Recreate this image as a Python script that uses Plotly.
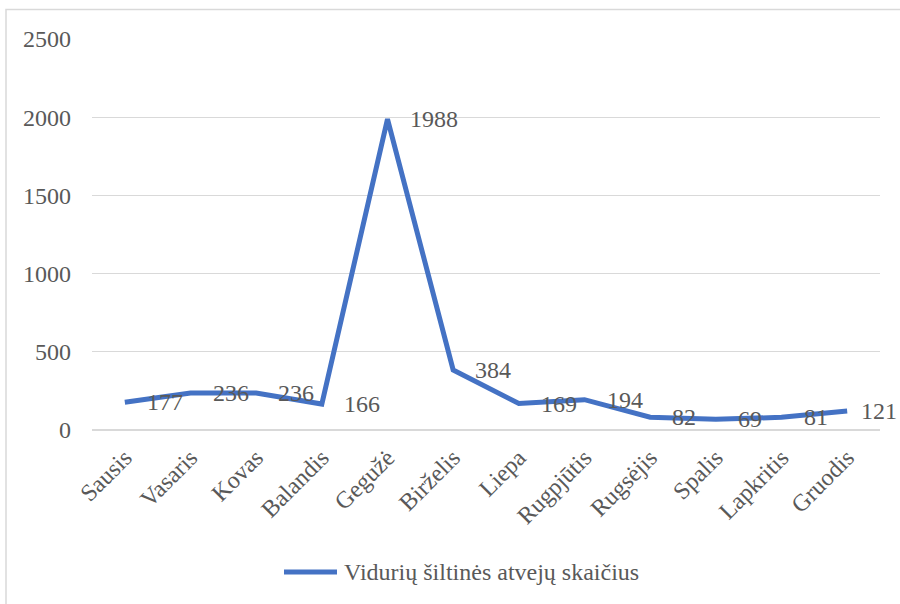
import plotly.graph_objects as go

months = ["Sausis", "Vasaris", "Kovas", "Balandis", "Gegužė", "Birželis",
          "Liepa", "Rugpjūtis", "Rugsėjis", "Spalis", "Lapkritis", "Gruodis"]
cases = [177, 236, 236, 166, 1988, 384, 169, 194, 82, 69, 81, 121]
series_name = "Vidurių šiltinės atvejų skaičius"
y_ticks = [0, 500, 1000, 1500, 2000, 2500]

FONT = "Liberation Serif, Times New Roman, serif"
GRAY = "#595959"
BLUE = "#4472C4"
FS = 24

W, H = 900, 604
L, T = 92, 39
R = W - 880
B = H - 430
pw, ph = W - L - R, H - T - B


def px(x):
    return (x - L) / pw


def py(y):
    return (H - B - y) / ph


fig = go.Figure()
fig.add_trace(go.Scatter(
    x=months, y=cases, mode="lines", name=series_name,
    line=dict(color=BLUE, width=5), showlegend=False, hoverinfo="skip",
))

for i, (m, v) in enumerate(zip(months, cases)):
    fig.add_annotation(x=m, y=v, xref="x", yref="y", text=str(v),
                       showarrow=False, xanchor="left", yanchor="middle",
                       xshift=12 if i == len(months) - 1 else 20,
                       font=dict(family=FONT, size=FS, color=GRAY))

# outer chart border
fig.add_shape(type="rect", xref="paper", yref="paper",
              x0=px(6), x1=px(920), y0=py(630), y1=py(9.5),
              line=dict(color="#D9D9D9", width=1.5), fillcolor="rgba(0,0,0,0)",
              layer="below")

# legend (drawn manually to match the long key line)
fig.add_shape(type="line", xref="paper", yref="paper",
              x0=px(284), x1=px(337), y0=py(572), y1=py(572),
              line=dict(color=BLUE, width=5))
fig.add_annotation(xref="paper", yref="paper", x=px(342), y=py(572),
                   text=series_name, showarrow=False, xanchor="left",
                   yanchor="middle", font=dict(family=FONT, size=FS, color=GRAY))

fig.update_layout(
    width=W, height=H,
    margin=dict(l=L, r=R, t=T, b=B, autoexpand=False),
    paper_bgcolor="white", plot_bgcolor="white",
    font=dict(family=FONT, size=FS, color=GRAY),
    showlegend=False,
    xaxis=dict(tickangle=-45, showgrid=False, showline=False, ticks="",
               range=[-0.5, 11.5], tickfont=dict(size=FS), automargin=False,
               ticklabelstandoff=8),
    yaxis=dict(range=[0, 2500], tickvals=y_ticks, showgrid=True,
               gridcolor="#D9D9D9", gridwidth=1.3, zeroline=True,
               zerolinecolor="#D9D9D9", zerolinewidth=1.5, showline=False,
               ticks="", ticklabelstandoff=20, tickfont=dict(size=FS),
               automargin=False),
)

fig.write_html("out.html", config={"displayModeBar": False},
               post_script="document.body.style.margin='0';")
